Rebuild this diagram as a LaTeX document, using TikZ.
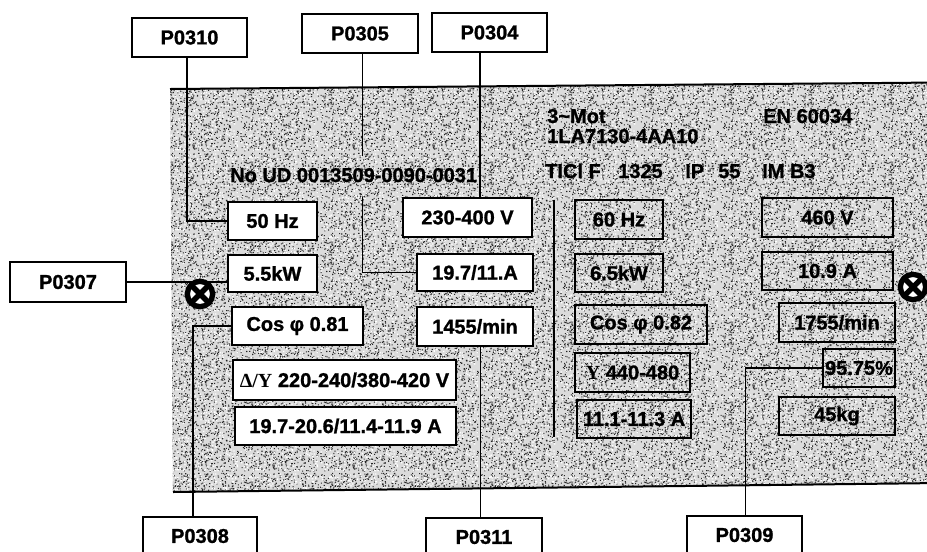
\documentclass[tikz,border=0pt]{standalone}
\usepackage{fontspec}
\setmainfont{Liberation Sans}[BoldFont={Liberation Sans Bold}, BoldFeatures={FakeBold=1.2}]
\newfontfamily\grserif{Liberation Serif}[BoldFont={Liberation Serif Bold}]
\usetikzlibrary{calc,patterns}
\pgfmathsetseed{7}
\pgfdeclarepatterninherentlycolored{platenoise}{\pgfpointorigin}{\pgfpoint{60pt}{60pt}}{\pgfpoint{60pt}{60pt}}{%
  \pgfsetfillcolor{black!14}%
  \pgfpathrectangle{\pgfpointorigin}{\pgfpoint{60pt}{60pt}}\pgfusepath{fill}%
  \pgfsetfillcolor{black!85}%
  \foreach \i in {1,...,900}{%
    \pgfmathsetmacro\xx{rnd*59.2}\pgfmathsetmacro\yy{rnd*59.2}%
    \pgfpathrectangle{\pgfpoint{\xx pt}{\yy pt}}{\pgfpoint{0.8pt}{0.8pt}}\pgfusepath{fill}%
  }%
  \pgfsetfillcolor{white}%
  \foreach \i in {1,...,350}{%
    \pgfmathsetmacro\xx{rnd*59}\pgfmathsetmacro\yy{rnd*59}%
    \pgfpathrectangle{\pgfpoint{\xx pt}{\yy pt}}{\pgfpoint{1pt}{1pt}}\pgfusepath{fill}%
  }%
}
\begin{document}
\begin{tikzpicture}[x=0.75pt,y=-0.75pt,
  font=\fontsize{15}{17}\selectfont\bfseries,
  sz/.style 2 args={minimum width=#1*0.75pt, minimum height=#2*0.75pt},
  lab/.style={draw, line width=1.5pt, fill=white, inner sep=0pt},
  ibox/.style={draw, line width=1.5pt, fill=white, inner sep=0pt},
  rbox/.style={draw, line width=1.5pt, inner sep=0pt},
  conn/.style={line width=1.2pt},
  txt/.style={inner sep=0pt, anchor=base west},
  gnd/.style={circle, draw, fill=white, line width=4pt, minimum size=19pt, inner sep=0pt,
    path picture={\draw[line width=4pt] (path picture bounding box.north west) -- (path picture bounding box.south east)
      (path picture bounding box.north east) -- (path picture bounding box.south west);}}
]
\useasboundingbox (0,0) rectangle (927,551);

% plate
\coordinate (pTL) at (170,89);
\coordinate (pTR) at (940,82.5);
\coordinate (pBR) at (940,483);
\coordinate (pBL) at (173,492);
\fill[black!14] (pTL) -- (pTR) -- (pBR) -- (pBL) -- cycle;
\fill[pattern=platenoise] (pTL) -- (pTR) -- (pBR) -- (pBL) -- cycle;
\draw[line width=1.5pt] (pTL) -- (pTR) (pBR) -- (pBL) -- cycle;

% separator
\coordinate (sepT) at (554,200);
\coordinate (sepB) at (554,437);
\draw[line width=1.3pt] (sepT) -- (sepB);

% header texts
\node[txt] (mot)  at (547,123) {3\textasciitilde Mot};
\node[txt] (type) at (547,143) {1LA7130-4AA10};
\node[txt] (en)   at (763,123) {EN 60034};
\node[txt] (ticl) at (545,178) {TICl F};
\node[txt] (rpm)  at (618,178) {1325};
\node[txt] (ip)   at (685,178) {IP};
\node[txt] (ipn)  at (718,178) {55};
\node[txt] (im)   at (762,178) {IM B3};
\node[txt] (noud) at (230,182) {No UD 0013509-0090-0031};

% left column boxes
\node[ibox, sz={89}{38}]  (hz50)  at (272.5,221)   {50 Hz};
\node[ibox, sz={89}{37}]  (kw55)  at (272.5,273.5) {5.5kW};
\node[ibox, sz={131}{38}] (cos81) at (297.5,326)   {Cos φ 0.81};
\node[ibox, sz={223}{40}] (dy)    at (344.5,380)   {{\grserif Δ/Υ} 220-240/380-420 V};
\node[ibox, sz={221}{38}] (a1920) at (345.5,426)   {19.7-20.6/11.4-11.9 A};
% middle column boxes
\node[ibox, sz={129}{39}] (v230)  at (467.5,217.5) {230-400 V};
\node[ibox, sz={116}{37}] (a197)  at (475,272.5)   {19.7/11.A};
\node[ibox, sz={116}{39}] (m1455) at (475,326.5)   {1455/min};
% right columns
\node[rbox, sz={88}{39}]  (hz60)  at (619,219.5)   {60 Hz};
\node[rbox, sz={88}{38}]  (kw65)  at (619,273)     {6.5kW};
\node[rbox, sz={132}{39}] (cos82) at (641,324.5)   {Cos φ 0.82};
\node[rbox, sz={115}{39}] (y440)  at (632.5,372.5) {{\grserif Υ} 440-480};
\node[rbox, sz={114}{38}] (a111)  at (634,419)     {11.1-11.3 A};
\node[rbox, sz={131}{39}] (v460)  at (827.5,217.5) {460 V};
\node[rbox, sz={131}{38}] (a109)  at (827.5,271)   {10.9 A};
\node[rbox, sz={116}{39}] (m1755) at (837,322.5)   {1755/min};
\node[rbox, sz={72}{38}]  (pct)   at (859,368)     {95.75\%};
\node[rbox, sz={116}{38}] (kg45)  at (837,416)     {45kg};

% ground symbols
\node[gnd] (gndL) at (200,294) {};
\node[gnd] (gndR) at (913,287) {};

% parameter labels
\node[lab, sz={115}{39}] (p0310) at (189.5,37.5) {P0310};
\node[lab, sz={116}{39}] (p0305) at (360,33.5)   {P0305};
\node[lab, sz={115}{39}] (p0304) at (489.5,32.5) {P0304};
\node[lab, sz={116}{40}] (p0307) at (68,282)     {P0307};
\node[lab, sz={114}{38}] (p0308) at (200,536)    {P0308};
\node[lab, sz={116}{38}] (p0311) at (484,537)    {P0311};
\node[lab, sz={115}{38}] (p0309) at (744.5,535)  {P0309};

% connectors
\coordinate (c310) at ($(p0310.south west)!0.48!(p0310.south east)$);
\coordinate (c305) at ($(p0305.south west)!0.52!(p0305.south east)$);
\coordinate (c304) at ($(p0304.south west)!0.42!(p0304.south east)$);
\coordinate (c308) at ($(p0308.north west)!0.44!(p0308.north east)$);
\coordinate (c311) at ($(p0311.north west)!0.47!(p0311.north east)$);
\coordinate (c309) at ($(p0309.north west)!0.51!(p0309.north east)$);
\coordinate (c305a) at ($(c305 |- noud.north)+(0,-12)$);
\coordinate (c305b) at ($(c305 |- noud.base)+(0,15)$);

\draw[conn] (c310) |- (hz50.west);
\draw[conn] (c305) -- (c305a);
\draw[conn] (c305b) |- (a197.west);
\draw[conn] (c304) -- (c304 |- v230.north);
\draw[conn] (p0307.east) -- (p0307.east -| kw55.west);
\draw[conn] (c308) |- (cos81.west);
\draw[conn] (c311) -- (c311 |- m1455.south);
\draw[conn] (c309) |- (pct.west);
\end{tikzpicture}
\end{document}
